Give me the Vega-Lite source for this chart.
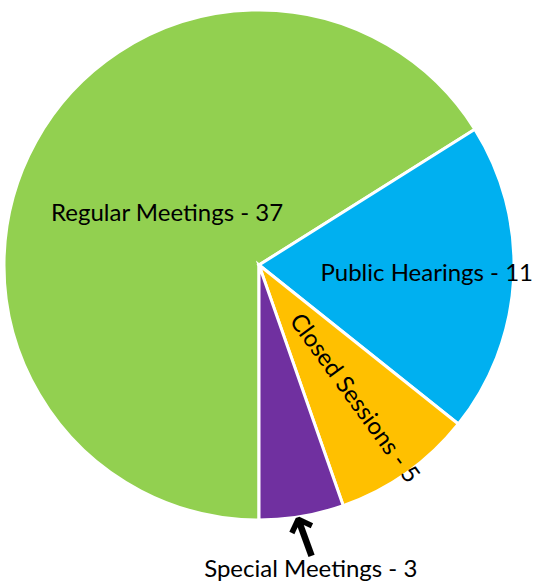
{
  "$schema": "https://vega.github.io/schema/vega-lite/v6.json",
  "width": 518,
  "height": 530,
  "autosize": "none",
  "padding": {"left": 0, "top": 0, "right": 19, "bottom": 53},
  "background": "white",
  "config": {"view": {"stroke": null}},
  "data": {
    "values": [
      {"idx": 1, "label": "Regular Meetings", "count": 37},
      {"idx": 2, "label": "Public Hearings", "count": 11},
      {"idx": 3, "label": "Closed Sessions", "count": 5},
      {"idx": 4, "label": "Special Meetings", "count": 3}
    ]
  },
  "transform": [{"calculate": "datum.label + ' - ' + datum.count", "as": "display"}],
  "encoding": {
    "theta": {"field": "count", "type": "quantitative", "stack": true, "scale": {"range": [3.14159265, 9.42477796]}},
    "order": {"field": "idx", "type": "quantitative"}
  },
  "layer": [
    {
      "mark": {"type": "arc", "outerRadius": 255, "stroke": "white", "strokeWidth": 3},
      "encoding": {
        "color": {
          "field": "label", "type": "nominal", "legend": null,
          "scale": {
            "domain": ["Regular Meetings", "Public Hearings", "Closed Sessions", "Special Meetings"],
            "range": ["#92D050", "#00B0F0", "#FFC000", "#7030A0"]
          }
        }
      }
    },
    {
      "mark": {"type": "text", "radius": 105, "font": "Lato", "fontSize": 24, "color": "black", "align": "center", "baseline": "middle"},
      "encoding": {"text": {"condition": {"test": "datum.label == 'Regular Meetings'", "field": "display"}, "value": ""}}
    },
    {
      "mark": {"type": "text", "radius": 168, "font": "Lato", "fontSize": 24, "color": "black", "align": "center", "baseline": "middle"},
      "encoding": {"text": {"condition": {"test": "datum.label == 'Public Hearings'", "field": "display"}, "value": ""}}
    },
    {
      "mark": {"type": "text", "radius": 164, "angle": 54, "font": "Lato", "fontSize": 24, "color": "black", "align": "center", "baseline": "middle"},
      "encoding": {"text": {"condition": {"test": "datum.label == 'Closed Sessions'", "field": "display"}, "value": ""}}
    },
    {
      "mark": {"type": "text", "radius": 309, "font": "Lato", "fontSize": 24, "color": "black", "align": "center", "baseline": "middle"},
      "encoding": {"text": {"condition": {"test": "datum.label == 'Special Meetings'", "field": "display"}, "value": ""}}
    },
    {
      "mark": {"type": "text", "radius": 279, "angle": -20, "font": "DejaVu Sans", "fontWeight": "bold", "fontSize": 56, "color": "black", "align": "center", "baseline": "middle"},
      "encoding": {"text": {"condition": {"test": "datum.label == 'Special Meetings'", "value": "↑"}, "value": ""}}
    }
  ]
}
